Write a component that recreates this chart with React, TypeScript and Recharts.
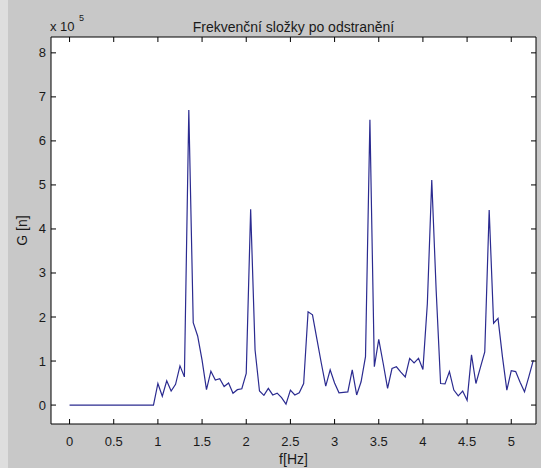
import { LineChart, Line, XAxis, YAxis, CartesianGrid } from "recharts";

// Frequency components after removal (MATLAB-style plot), G in units of 10^5
const FREQ = [
  0, 0.05, 0.1, 0.15, 0.2, 0.25, 0.3, 0.35, 0.4, 0.45,
  0.5, 0.55, 0.6, 0.65, 0.7, 0.75, 0.8, 0.85, 0.9, 0.95,
  1.0, 1.05, 1.1, 1.15, 1.2, 1.25, 1.3, 1.35, 1.4, 1.45,
  1.5, 1.55, 1.6, 1.65, 1.7, 1.75, 1.8, 1.85, 1.9, 1.95,
  2.0, 2.05, 2.1, 2.15, 2.2, 2.25, 2.3, 2.35, 2.4, 2.45,
  2.5, 2.55, 2.6, 2.65, 2.7, 2.75, 2.8, 2.85, 2.9, 2.95,
  3.0, 3.05, 3.1, 3.15, 3.2, 3.25, 3.3, 3.35, 3.4, 3.45,
  3.5, 3.55, 3.6, 3.65, 3.7, 3.75, 3.8, 3.85, 3.9, 3.95,
  4.0, 4.05, 4.1, 4.15, 4.2, 4.25, 4.3, 4.35, 4.4, 4.45,
  4.5, 4.55, 4.6, 4.65, 4.7, 4.75, 4.8, 4.85, 4.9, 4.95,
  5.0, 5.05, 5.1, 5.15, 5.2, 5.25,
];

const G = [
  0, 0, 0, 0, 0, 0, 0, 0, 0, 0,
  0, 0, 0, 0, 0, 0, 0, 0, 0, 0,
  0.49, 0.2, 0.55, 0.32, 0.47, 0.89, 0.64, 6.7, 1.87, 1.57,
  1.02, 0.35, 0.77, 0.57, 0.6, 0.42, 0.5, 0.27, 0.35, 0.37,
  0.72, 4.45, 1.25, 0.32, 0.22, 0.38, 0.23, 0.27, 0.17, 0.02,
  0.34, 0.23, 0.28, 0.49, 2.12, 2.05, 1.5, 0.95, 0.43, 0.8,
  0.5, 0.28, 0.29, 0.3, 0.8, 0.23, 0.53, 1.1, 6.48, 0.87,
  1.49, 0.95, 0.38, 0.83, 0.87, 0.75, 0.64, 1.06, 0.96, 1.06,
  0.81, 2.3, 5.11, 2.6, 0.49, 0.48, 0.76, 0.34, 0.21, 0.32,
  0.11, 1.14, 0.49, 0.85, 1.21, 4.43, 1.86, 1.97, 1.1, 0.34,
  0.78, 0.76, 0.52, 0.3, 0.65, 1.02,
];

const X_TICKS = [0, 0.5, 1, 1.5, 2, 2.5, 3, 3.5, 4, 4.5, 5];
const Y_TICKS = [0, 1, 2, 3, 4, 5, 6, 7, 8];

const TITLE = "Frekvenční složky po odstranění";
const X_LABEL = "f[Hz]";
const Y_LABEL = "G [n]";

const data = FREQ.map((f, i) => ({ f, g: G[i] }));

const FONT = '"Liberation Sans", Arial, sans-serif';
const INK = "#1a1a1a";
const TL = 5;

if (typeof document !== "undefined") document.body.style.margin = "0";

function BottomTick({ x, y, payload }: any) {
  return (
    <g>
      <line x1={x} y1={y} x2={x} y2={y - TL} stroke="#000" />
      <text x={x} y={y + 22} textAnchor="middle" fontSize={13} fill={INK} fontFamily={FONT}>
        {payload.value}
      </text>
    </g>
  );
}

function TopTick({ x, y }: any) {
  return <line x1={x} y1={y} x2={x} y2={y + TL} stroke="#000" />;
}

function LeftTick({ x, y, payload }: any) {
  return (
    <g>
      <line x1={x} y1={y} x2={x + TL} y2={y} stroke="#000" />
      <text x={x - 5} y={y + 4.5} textAnchor="end" fontSize={13} fill={INK} fontFamily={FONT}>
        {payload.value}
      </text>
    </g>
  );
}

function RightTick({ x, y }: any) {
  return <line x1={x} y1={y} x2={x - TL} y2={y} stroke="#000" />;
}

const X_DOMAIN: [number, number] = [-0.21, 5.28];
const Y_DOMAIN: [number, number] = [-0.43, 8.36];

const axisCommon = {
  type: "number" as const,
  interval: 0 as const,
  allowDataOverflow: true,
  tickSize: 0,
  tickMargin: 0,
  tickLine: false,
  axisLine: { stroke: "#000" },
};

export default function App() {
  return (
    <div
      style={{
        position: "relative",
        width: 541,
        height: 468,
        background: "linear-gradient(to right, #dedede 0 8px, #c8c8c8 8px)",
      }}
    >
      <LineChart width={541} height={468} data={data} margin={{ top: 0, right: 0, bottom: 0, left: 0 }}>
        <CartesianGrid xAxisId="b" yAxisId="l" fill="#fff" horizontal={false} vertical={false} />
        <XAxis {...axisCommon} xAxisId="b" dataKey="f" domain={X_DOMAIN} ticks={X_TICKS} height={44} tick={BottomTick} />
        <XAxis
          {...axisCommon}
          xAxisId="t"
          dataKey="f"
          orientation="top"
          domain={X_DOMAIN}
          ticks={X_TICKS}
          height={37}
          tick={TopTick}
        />
        <YAxis {...axisCommon} yAxisId="l" dataKey="g" domain={Y_DOMAIN} ticks={Y_TICKS} width={51} tick={LeftTick} />
        <YAxis
          {...axisCommon}
          yAxisId="r"
          dataKey="g"
          orientation="right"
          domain={Y_DOMAIN}
          ticks={Y_TICKS}
          width={5}
          tick={RightTick}
        />
        <Line
          xAxisId="b"
          yAxisId="l"
          type="linear"
          dataKey="g"
          stroke="#2b2b90"
          strokeWidth={1.2}
          dot={false}
          isAnimationActive={false}
        />
      </LineChart>
      <svg
        width={541}
        height={468}
        style={{ position: "absolute", left: 0, top: 0, pointerEvents: "none" }}
        fontFamily={FONT}
        fill={INK}
      >
        <text x={293.5} y={32} textAnchor="middle" fontSize={14}>
          {TITLE}
        </text>
        <text x={50} y={31} fontSize={13}>
          x 10
        </text>
        <text x={79} y={21} fontSize={9}>
          5
        </text>
        <text x={27} y={230.5} textAnchor="middle" fontSize={14} transform="rotate(-90 27 230.5)">
          {Y_LABEL}
        </text>
        <text x={293.5} y={464} textAnchor="middle" fontSize={14}>
          {X_LABEL}
        </text>
      </svg>
    </div>
  );
}
